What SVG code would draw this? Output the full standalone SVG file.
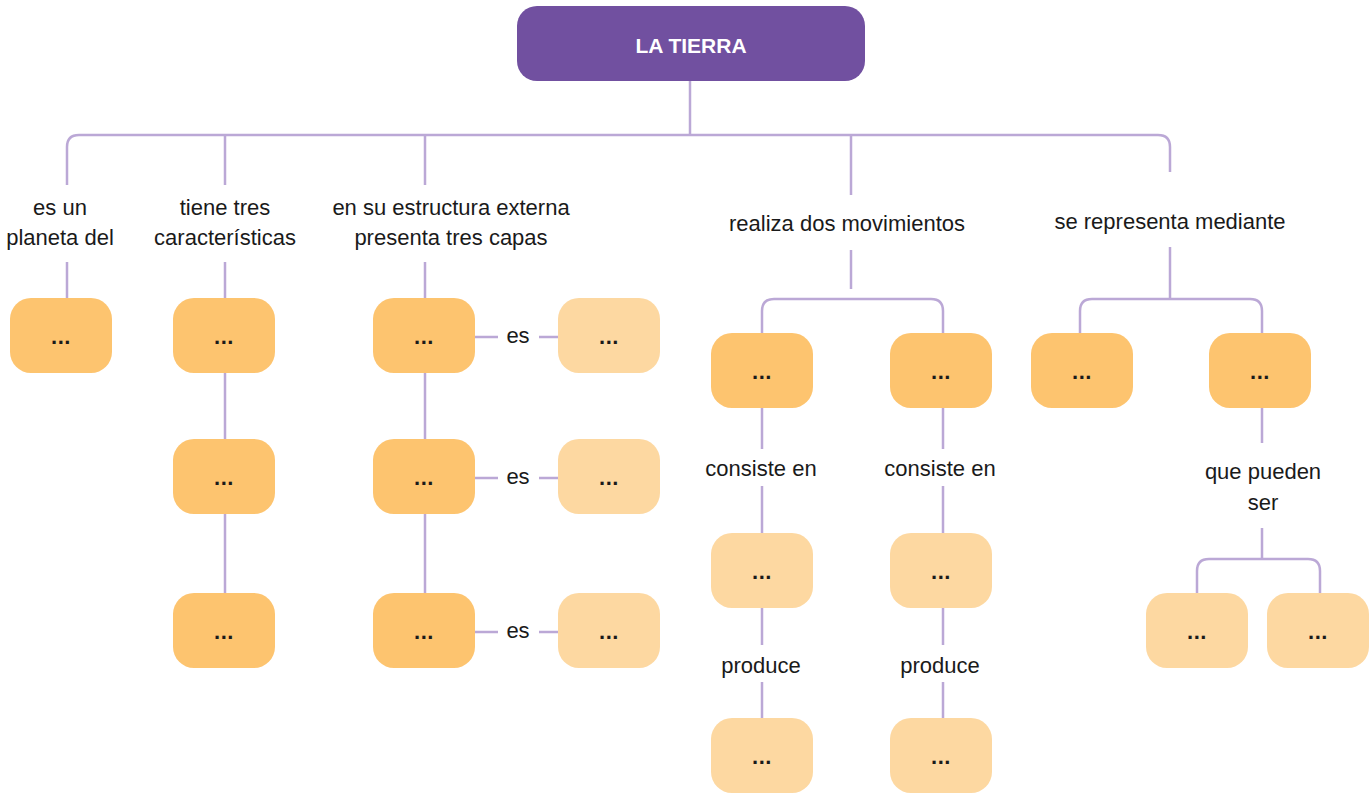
<svg xmlns="http://www.w3.org/2000/svg" width="1369" height="793" viewBox="0 0 1369 793">
<style>
.c{fill:none;stroke:#bba8d6;stroke-width:2.5;stroke-linecap:butt}
.d{fill:#fdc46f}
.l{fill:#fdd8a1}
.t{font-family:"Liberation Sans",Arial,sans-serif;font-size:22px;fill:#1a1a1a;text-anchor:middle}
.dots{font-family:"Liberation Sans",Arial,sans-serif;font-size:22px;font-weight:bold;fill:#1a1a1a;text-anchor:middle;letter-spacing:0.5px}
.title{font-family:"Liberation Sans",Arial,sans-serif;font-size:21px;font-weight:bold;fill:#ffffff;text-anchor:middle}
</style>
<rect width="1369" height="793" fill="#ffffff"/>
<g id="connectors">
<path class="c" d="M690,81 V135"/>
<path class="c" d="M67,185 V147 Q67,135 79,135 H1158 Q1170,135 1170,147 V172"/>
<path class="c" d="M225,135 V185 M425,135 V185 M851,135 V195"/>
<path class="c" d="M67,262 V298 M225,262 V298 M425,262 V298"/>
<path class="c" d="M225,373 V439 M225,514 V593 M425,373 V439 M425,514 V593"/>
<path class="c" d="M475,337 H498 M539,337 H558 M475,478 H498 M539,478 H558 M475,632 H498 M539,632 H558"/>
<path class="c" d="M851,250 V289"/>
<path class="c" d="M762,333 V311 Q762,299 774,299 H931 Q943,299 943,311 V333"/>
<path class="c" d="M1170,247 V299"/>
<path class="c" d="M1080,333 V311 Q1080,299 1092,299 H1250 Q1262,299 1262,311 V333"/>
<path class="c" d="M762,408 V449 M762,486 V533 M762,608 V645 M762,682 V718"/>
<path class="c" d="M943,408 V449 M943,486 V533 M943,608 V645 M943,682 V718"/>
<path class="c" d="M1262,408 V443 M1262,528 V559"/>
<path class="c" d="M1197,593 V571 Q1197,559 1209,559 H1308 Q1320,559 1320,571 V593"/>
</g>
<g id="labels">
<text class="t" x="60" y="215">es un</text>
<text class="t" x="60" y="245">planeta del</text>
<text class="t" x="225" y="215">tiene tres</text>
<text class="t" x="225" y="245">características</text>
<text class="t" x="451" y="215">en su estructura externa</text>
<text class="t" x="451" y="245">presenta tres capas</text>
<text class="t" x="847" y="231">realiza dos movimientos</text>
<text class="t" x="1170" y="229">se representa mediante</text>
<text class="t" x="518" y="343">es</text>
<text class="t" x="518" y="484">es</text>
<text class="t" x="518" y="638">es</text>
<text class="t" x="761" y="476">consiste en</text>
<text class="t" x="940" y="476">consiste en</text>
<text class="t" x="761" y="673">produce</text>
<text class="t" x="940" y="673">produce</text>
<text class="t" x="1263" y="479">que pueden</text>
<text class="t" x="1263" y="510">ser</text>
</g>
<g id="title">
<rect x="517" y="6" width="348" height="75" rx="20" fill="#7150a0"/>
<text class="title" x="691" y="53">LA TIERRA</text>
</g>
<g id="n-a"><rect class="d" x="10" y="298" width="102" height="75" rx="21"/><text class="dots" x="61" y="344">...</text></g>
<g id="n-b1"><rect class="d" x="173" y="298" width="102" height="75" rx="21"/><text class="dots" x="224" y="344">...</text></g>
<g id="n-b2"><rect class="d" x="173" y="439" width="102" height="75" rx="21"/><text class="dots" x="224" y="485">...</text></g>
<g id="n-b3"><rect class="d" x="173" y="593" width="102" height="75" rx="21"/><text class="dots" x="224" y="639">...</text></g>
<g id="n-c1"><rect class="d" x="373" y="298" width="102" height="75" rx="21"/><text class="dots" x="424" y="344">...</text></g>
<g id="n-c2"><rect class="d" x="373" y="439" width="102" height="75" rx="21"/><text class="dots" x="424" y="485">...</text></g>
<g id="n-c3"><rect class="d" x="373" y="593" width="102" height="75" rx="21"/><text class="dots" x="424" y="639">...</text></g>
<g id="n-d1"><rect class="l" x="558" y="298" width="102" height="75" rx="21"/><text class="dots" x="609" y="344">...</text></g>
<g id="n-d2"><rect class="l" x="558" y="439" width="102" height="75" rx="21"/><text class="dots" x="609" y="485">...</text></g>
<g id="n-d3"><rect class="l" x="558" y="593" width="102" height="75" rx="21"/><text class="dots" x="609" y="639">...</text></g>
<g id="n-m1"><rect class="d" x="711" y="333" width="102" height="75" rx="21"/><text class="dots" x="762" y="379">...</text></g>
<g id="n-m2"><rect class="d" x="890" y="333" width="102" height="75" rx="21"/><text class="dots" x="941" y="379">...</text></g>
<g id="n-m1b"><rect class="l" x="711" y="533" width="102" height="75" rx="21"/><text class="dots" x="762" y="579">...</text></g>
<g id="n-m2b"><rect class="l" x="890" y="533" width="102" height="75" rx="21"/><text class="dots" x="941" y="579">...</text></g>
<g id="n-m1c"><rect class="l" x="711" y="718" width="102" height="75" rx="21"/><text class="dots" x="762" y="764">...</text></g>
<g id="n-m2c"><rect class="l" x="890" y="718" width="102" height="75" rx="21"/><text class="dots" x="941" y="764">...</text></g>
<g id="n-r1"><rect class="d" x="1031" y="333" width="102" height="75" rx="21"/><text class="dots" x="1082" y="379">...</text></g>
<g id="n-r2"><rect class="d" x="1209" y="333" width="102" height="75" rx="21"/><text class="dots" x="1260" y="379">...</text></g>
<g id="n-r2a"><rect class="l" x="1146" y="593" width="102" height="75" rx="21"/><text class="dots" x="1197" y="639">...</text></g>
<g id="n-r2b"><rect class="l" x="1267" y="593" width="102" height="75" rx="21"/><text class="dots" x="1318" y="639">...</text></g>
</svg>
